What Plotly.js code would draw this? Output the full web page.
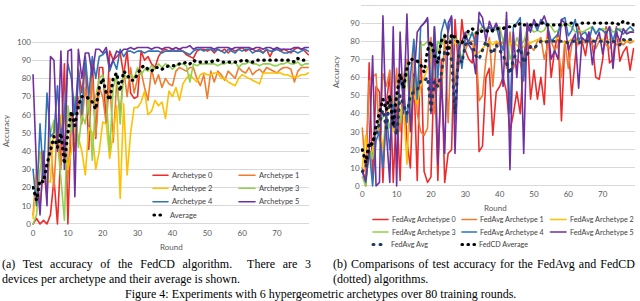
<!DOCTYPE html>
<html>
<head>
<meta charset="utf-8">
<script src="https://cdn.plot.ly/plotly-3.0.1.min.js"></script>
<style>
  html, body { margin: 0; padding: 0; background: #fff; }
  #chart { width: 640px; height: 301px; }
  .js-line { stroke-linecap: round; stroke-linejoin: round; }
  .shapelayer path { stroke-linecap: round; }
</style>
</head>
<body>
<div id="chart"></div>
<script>
// ---------------- DATA ----------------
const rounds = Array.from({length: 80}, (_, i) => i);
const xTicks = [0, 10, 20, 30, 40, 50, 60, 70];

// Panel (a): FedCD, per archetype
const arch0 = [0,3,0,2,0,5,25,0,40,88, 0,60,40,85,72,90,41,90,47,86, 86,56,95,90,92,94,82,95,72,69, 70,95,90,92,88,86,92,95,96,95, 96,95,96,95,93,92,91,95,96,96, 95,96,94,96,95,96,94,96,95,96, 97,95,96,96,95,96,94,96,92,96, 96,95,96,95,94,96,97,96,95,93];
const arch1 = [5,30,10,30,15,45,20,55,30,65, 25,60,45,70,55,75,60,80,48,75, 70,55,80,45,78,60,85,70,86,72, 80,84,75,68,85,77,82,75,80,77, 76,84,86,85,84,86,86,80,76,82, 69,84,78,84,82,79,84,82,80,86, 84,83,86,82,84,85,83,86,85,84, 83,85,86,86,85,78,84,86,86,86];
const arch2 = [3,20,40,25,24,23,55,40,60,45, 30,40,55,48,40,27,53,50,30,40, 56,55,36,50,65,14,66,27,50,64, 64,67,73,60,62,68,65,67,58,73, 70,75,68,77,80,82,80,78,82,83, 82,82,83,83,80,80,78,77,76,80, 82,81,80,79,78,77,83,83,83,83, 83,83,82,82,81,81,81,82,82,83];
const arch3 = [0,5,30,40,20,50,57,45,25,2, 65,50,70,42,60,55,70,35,70,80, 82,70,40,75,82,55,83,80,82,80, 86,82,85,84,87,85,88,86,88,87, 85,87,88,88,87,78,88,87,88,88, 88,88,88,87,88,88,89,88,89,86, 88,88,89,88,88,87,88,88,88,87, 87,88,88,89,88,88,89,87,88,88];
const arch4 = [30,10,55,25,72,48,50,76,45,60, 88,80,60,85,60,92,70,92,80,92, 93,95,84,90,85,96,92,95,95,94, 95,95,94,95,95,95,95,94,95,95, 95,95,95,95,94,93,95,96,96,95, 96,96,95,96,95,94,96,95,94,96, 95,96,96,94,95,95,94,96,95,95, 96,95,94,94,95,95,94,95,96,95];
const arch5 = [82,30,5,40,10,92,90,40,95,30, 95,96,15,96,80,94,94,82,96,96, 94,97,86,90,95,94,96,96,97,96, 97,97,97,97,96,97,97,96,97,97, 96,97,96,97,97,98,96,97,97,97, 97,97,96,97,97,97,97,96,97,97, 97,97,97,96,97,97,96,97,97,96, 97,96,96,96,96,97,97,96,97,97];
const fedcdAvg = [20,13,24,23,33,40,48,42,50,33, 50,62,54,65,70,70,69,67,63,75, 80,72,68,80,83,73,84,82,79,79, 83,86,87,85,84,86,86,85,86,87, 87,87,88,88,89,88,90,89,89,89, 89,89,90,90,89,89,89,89,89,89, 90,90,89,89,90,90,90,90,90,90, 90,90,90,90,90,89,91,90,90,89];

// Panel (b): FedAvg per archetype
const fedavg0 = [10,0,68,5,55,52,2,45,62,2, 45,3,60,25,10,62,3,80,8,2, 5,70,3,70,2,18,20,92,65,92, 75,70,68,85,19,22,60,65,28,52, 55,60,52,30,40,52,40,70,88,48, 64,48,60,45,88,60,75,85,36,80, 78,50,70,88,80,72,85,78,60,59, 70,88,68,70,88,69,74,77,64,76];
const fedavg1 = [32,5,58,60,62,25,62,55,64,40, 65,30,60,70,35,80,40,30,28,32, 82,40,60,50,82,35,82,55,78,80, 75,80,80,80,47,50,70,82,55,80, 78,80,65,85,65,70,68,60,80,77, 75,80,82,70,78,80,75,78,60,80, 65,78,82,78,80,79,80,78,76,80, 80,78,76,80,78,80,78,80,79,80];
const fedavg2 = [10,28,15,20,30,35,20,40,45,30, 50,40,45,12,55,50,45,55,60,65, 70,72,75,78,80,78,76,80,78,70, 78,80,78,72,74,76,78,80,78,80, 79,77,80,78,80,78,76,77,80,79, 80,81,80,80,81,80,80,82,80,79, 80,81,80,80,81,80,80,81,80,82, 81,80,81,80,82,81,80,80,81,80];
const fedavg3 = [5,0,20,15,30,35,38,40,32,45, 50,35,45,67,40,60,48,78,78,80, 76,60,80,78,84,82,80,82,78,80, 82,84,83,85,86,88,87,88,87,86, 88,80,85,70,75,82,78,80,86,87, 85,86,85,86,90,88,85,86,88,90, 89,88,85,86,85,86,87,88,85,86, 87,86,88,85,86,87,86,85,85,86];
const fedavg4 = [8,2,20,0,25,30,10,40,20,45, 30,60,50,35,60,81,48,88,90,92, 50,88,60,85,92,85,93,35,80,65, 82,80,85,78,92,88,86,88,85,89, 80,75,92,40,88,90,93,58,85,88, 90,86,92,90,88,80,82,84,92,93, 83,86,92,80,84,85,80,88,84,87, 86,84,88,80,87,86,84,86,88,86];
const fedavg5 = [8,3,20,72,0,2,94,30,2,88, 0,85,40,95,30,55,85,88,90,93, 40,88,12,60,18,90,94,18,75,80, 85,78,75,62,96,93,80,91,86,90, 85,55,96,9,85,60,88,18,90,85, 92,88,90,94,88,70,75,70,92,90, 75,80,84,54,82,80,85,67,80,85, 73,84,88,65,85,80,87,84,85,85];
const fedavgAvg = [8,10,20,25,28,35,42,32,48,35, 28,50,45,40,50,52,53,58,58,60, 42,58,55,62,75,72,70,40,72,68, 78,80,78,72,70,75,80,76,73,78, 75,72,68,62,70,74,76,68,72,77, 76,78,80,79,80,80,80,80,80,80, 79,80,80,79,80,80,80,80,80,80, 80,80,79,80,79,78,81,80,81,81];

const namesA = ['Archetype 0','Archetype 1','Archetype 2','Archetype 3','Archetype 4','Archetype 5','Average'];
const namesB = ['FedAvg Archetype 0','FedAvg Archetype 1','FedAvg Archetype 2','FedAvg Archetype 3','FedAvg Archetype 4','FedAvg Archetype 5','FedAvg Avg','FedCD Average'];

// ---------------- STYLE ----------------
const colors = ['#EE2B2B','#ED7D31','#FFC000','#92D050','#2E75B6','#7030A0'];
const navy = '#1F3864';
const DOT = '0.5px,5.5px';
const DASHN = '1px,6px';
const W = 640, H = 301;
const fx = p => p / W;
const fy = p => 1 - p / H;

const seriesA = [arch0, arch1, arch2, arch3, arch4, arch5];
const seriesB = [fedavg0, fedavg1, fedavg2, fedavg3, fedavg4, fedavg5];

const traces = [];
seriesA.forEach((s, i) => traces.push({
  x: rounds, y: s, name: namesA[i], type: 'scatter', mode: 'lines',
  xaxis: 'x', yaxis: 'y', line: {color: colors[i], width: 1.6}
}));
traces.push({x: rounds, y: fedcdAvg, name: namesA[6], type: 'scatter', mode: 'lines',
  xaxis: 'x', yaxis: 'y', line: {color: '#000', width: 3.2, dash: DOT}});
seriesB.forEach((s, i) => traces.push({
  x: rounds, y: s, name: namesB[i], type: 'scatter', mode: 'lines',
  xaxis: 'x2', yaxis: 'y2', line: {color: colors[i], width: 1.6}
}));
traces.push({x: rounds, y: fedavgAvg, name: namesB[6], type: 'scatter', mode: 'lines',
  xaxis: 'x2', yaxis: 'y2', line: {color: navy, width: 3, dash: DASHN}});
traces.push({x: rounds, y: fedcdAvg, name: namesB[7], type: 'scatter', mode: 'lines',
  xaxis: 'x2', yaxis: 'y2', line: {color: '#000', width: 3.2, dash: DOT}});

const sans = 'Lato, "Open Sans", sans-serif';
const tickFont = {family: sans, size: 8, color: '#595959'};
const legFontA = {family: sans, size: 7.5, color: '#404040'};
const legFontB = {family: sans, size: 7.2, color: '#404040'};
const capFont = {family: '"Liberation Serif", "DejaVu Serif", serif', size: 12, color: '#000'};

function xAxis(domain, range, anchor, standoff) {
  return {domain, range, anchor, tickvals: xTicks, showgrid: false, zeroline: false,
    showline: false, ticks: '', tickfont: tickFont, fixedrange: true, ticklabelstandoff: standoff};
}
function yAxis(domain, anchor) {
  return {domain, range: [-1, 101], anchor, tick0: 0, dtick: 10, showgrid: true,
    gridcolor: '#D9D9D9', gridwidth: 1, zeroline: false, showline: false, ticks: '',
    tickfont: tickFont, fixedrange: true, ticklabelstandoff: 0};
}

const shapes = [];
const annotations = [];
function legendEntry(x0, x1, y, color, kind, label, font) {
  const ln = {type: 'line', xref: 'paper', yref: 'paper', x0: fx(x0), x1: fx(x1), y0: fy(y), y1: fy(y),
    line: {color, width: kind === 'solid' ? 1.6 : 3.2}};
  if (kind === 'dot') ln.line.dash = DOT;
  if (kind === 'dash') { ln.line.dash = DASHN; ln.line.width = 3; }
  shapes.push(ln);
  annotations.push({xref: 'paper', yref: 'paper', x: fx(x1 + 1.5), y: fy(y), text: label,
    showarrow: false, xanchor: 'left', yanchor: 'middle', font});
}
// Legend (a)
const aRows = [175.3, 188.3, 201.7, 215];
legendEntry(153, 168, aRows[0], colors[0], 'solid', namesA[0], legFontA);
legendEntry(239, 255, aRows[0], colors[1], 'solid', namesA[1], legFontA);
legendEntry(153, 168, aRows[1], colors[2], 'solid', namesA[2], legFontA);
legendEntry(239, 255, aRows[1], colors[3], 'solid', namesA[3], legFontA);
legendEntry(153, 168, aRows[2], colors[4], 'solid', namesA[4], legFontA);
legendEntry(239, 255, aRows[2], colors[5], 'solid', namesA[5], legFontA);
legendEntry(154, 166, aRows[3], '#000', 'dot', namesA[6], legFontA);
// Legend (b)
const bRows = [219.5, 232, 244.5];
const bCols = [[373, 388], [462, 476.5], [550.5, 566]];
for (let i = 0; i < 6; i++) {
  const r = Math.floor(i / 3), c = i % 3;
  legendEntry(bCols[c][0], bCols[c][1], bRows[r], colors[i], 'solid', namesB[i], legFontB);
}
legendEntry(373, 387, bRows[2], navy, 'dash', namesB[6], legFontB);
legendEntry(462, 475, bRows[2], '#000', 'dot', namesB[7], legFontB);

// Axis titles
const axTitle = {family: sans, size: 8, color: '#595959'};
annotations.push({xref: 'paper', yref: 'paper', x: fx(6), y: fy(131), text: 'Accuracy', textangle: -90,
  showarrow: false, xanchor: 'center', yanchor: 'middle', font: axTitle});
annotations.push({xref: 'paper', yref: 'paper', x: fx(171), y: fy(247), text: 'Round',
  showarrow: false, xanchor: 'center', yanchor: 'middle', font: axTitle});
annotations.push({xref: 'paper', yref: 'paper', x: fx(336), y: fy(72), text: 'Accuracy', textangle: -90,
  showarrow: false, xanchor: 'center', yanchor: 'middle', font: axTitle});
annotations.push({xref: 'paper', yref: 'paper', x: fx(495), y: fy(207.5), text: 'Round',
  showarrow: false, xanchor: 'center', yanchor: 'middle', font: axTitle});

// Captions (first lines justified via word-spacing)
const capA1 = '<span style="word-spacing:4.6px">(a) Test accuracy of the FedCD algorithm.\u00a0 There are 3</span>';
const capA2 = 'devices per archetype and their average is shown.';
const capB1 = '<span style="word-spacing:1.1px">(b) Comparisons of test accuracy for the FedAvg and FedCD</span>';
const capB2 = '(dotted) algorithms.';
const capFig = 'Figure 4: Experiments with 6 hypergeometric archetypes over 80 training rounds.';
[[capA1, 0, 263.5, 'left'], [capA2, 0, 279, 'left'], [capB1, 331, 263.5, 'left'], [capB2, 331, 279, 'left'],
 [capFig, 320, 294.3, 'center']].forEach(([t, x, y, anc]) => annotations.push({
  xref: 'paper', yref: 'paper', x: fx(x), y: fy(y), text: t, showarrow: false,
  xanchor: anc, yanchor: 'middle', font: capFont}));

const layout = {
  width: W, height: H, margin: {l: 0, r: 0, t: 0, b: 0}, showlegend: false,
  paper_bgcolor: '#fff', plot_bgcolor: '#fff',
  xaxis: xAxis([32 / W, 309.4 / W], [-0.3, 79.3], 'y', 1),
  yaxis: yAxis([(H - 225.8) / H, (H - 40.2) / H], 'x'),
  xaxis2: xAxis([360.6 / W, 634.6 / W], [-0.5, 79.3], 'y2', 2.5),
  yaxis2: yAxis([(H - 187.8) / H, (H - 3.2) / H], 'x2'),
  shapes, annotations
};

Plotly.newPlot('chart', traces, layout, {staticPlot: true, displayModeBar: false});
</script>
</body>
</html>
